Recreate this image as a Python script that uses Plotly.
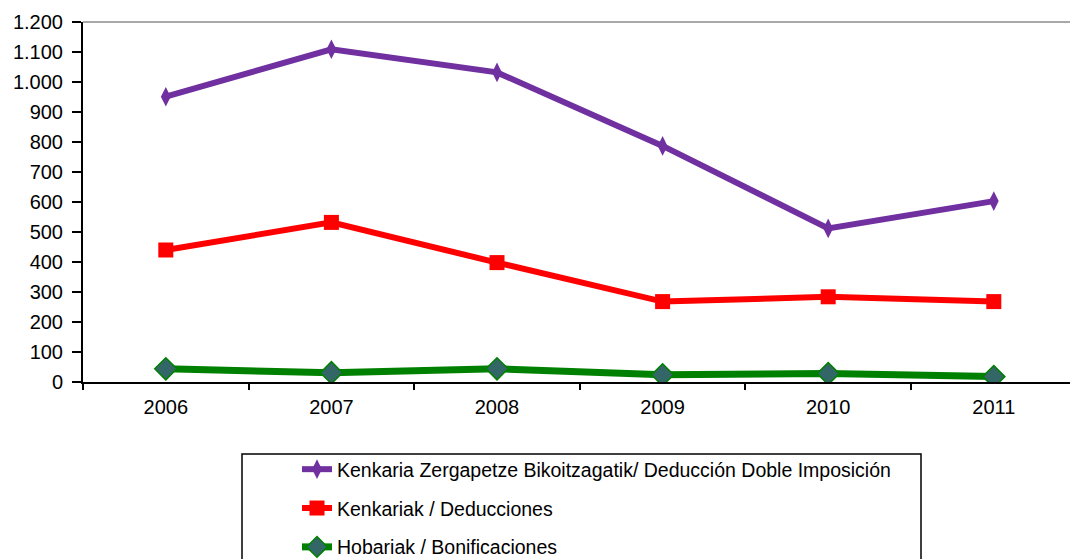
import plotly.graph_objects as go

years = ["2006", "2007", "2008", "2009", "2010", "2011"]
doble_imposicion = [951, 1109, 1032, 787, 512, 603]
deducciones = [440, 532, 398, 268, 284, 268]
bonificaciones = [44, 31, 44, 24, 28, 18]

names = [
    "Kenkaria Zergapetze Bikoitzagatik/ Deducción Doble Imposición",
    "Kenkariak / Deducciones",
    "Hobariak / Bonificaciones",
]

W, H = 1070, 559
ML, MT, MB = 83, 22, 177
plot_w = W - ML
plot_h = H - MT - MB
cat_w = 165.6

fig = go.Figure()
fig.add_trace(go.Scatter(
    x=years, y=doble_imposicion, name=names[0], mode="lines+markers",
    legendgroup="a",
    line=dict(color="#7030A0", width=6),
    marker=dict(symbol="diamond-tall", size=14, color="#7030A0"),
))
fig.add_trace(go.Scatter(
    x=years, y=deducciones, name=names[1], mode="lines+markers",
    legendgroup="b",
    line=dict(color="#FF0000", width=6),
    marker=dict(symbol="square", size=15, color="#FF0000"),
))
fig.add_trace(go.Scatter(
    x=years, y=bonificaciones, name=names[2], mode="lines+markers",
    legendgroup="c",
    line=dict(color="#008000", width=7),
    marker=dict(symbol="diamond", size=17, color="#336666",
                line=dict(color="#008000", width=1.5)),
))

font_family = "Liberation Sans, Arial, sans-serif"

fig.update_layout(
    width=W, height=H,
    margin=dict(l=ML, r=0, t=MT, b=MB, pad=0, autoexpand=False),
    paper_bgcolor="white", plot_bgcolor="white",
    separators=",.",
    font=dict(family=font_family, size=20, color="black"),
    showlegend=True,
    legend=dict(
        orientation="v",
        x=(297 - ML) / plot_w, xanchor="left",
        y=-(450 - (H - MB)) / plot_h, yanchor="top",
        font=dict(family=font_family, size=19.5, color="black"),
        bgcolor="rgba(0,0,0,0)", borderwidth=0,
        tracegroupgap=10.5,
        itemwidth=30,
    ),
    xaxis=dict(
        type="category",
        range=[-0.5, -0.5 + plot_w / cat_w],
        showgrid=False, zeroline=False,
        showline=True, linecolor="black", linewidth=2,
        ticks="outside", ticklen=6, tickwidth=1.5, tickcolor="black",
        tickson="boundaries",
        tickfont=dict(size=20),
        tickangle=0,
        ticklabelstandoff=6,
    ),
    yaxis=dict(
        range=[0, 1200], dtick=100, tick0=0,
        tickformat=",d",
        showgrid=False, zeroline=False,
        showline=True, linecolor="black", linewidth=2,
        ticks="outside", ticklen=9, tickwidth=1.5, tickcolor="black",
        tickfont=dict(size=20),
        ticklabelstandoff=5,
    ),
    shapes=[
        dict(type="line", xref="paper", yref="paper", x0=0, x1=1, y0=1, y1=1,
             line=dict(color="#8c8c8c", width=1.5)),
        dict(type="rect", xref="paper", yref="paper",
             x0=(242 - ML) / plot_w, x1=(921 - ML) / plot_w,
             y0=-(454 - (H - MB)) / plot_h, y1=-(575 - (H - MB)) / plot_h,
             line=dict(color="black", width=1.5), fillcolor="rgba(0,0,0,0)"),
    ],
)

fig.write_html("out.html", config={"displayModeBar": False},
               post_script="document.body.style.margin='0';")
